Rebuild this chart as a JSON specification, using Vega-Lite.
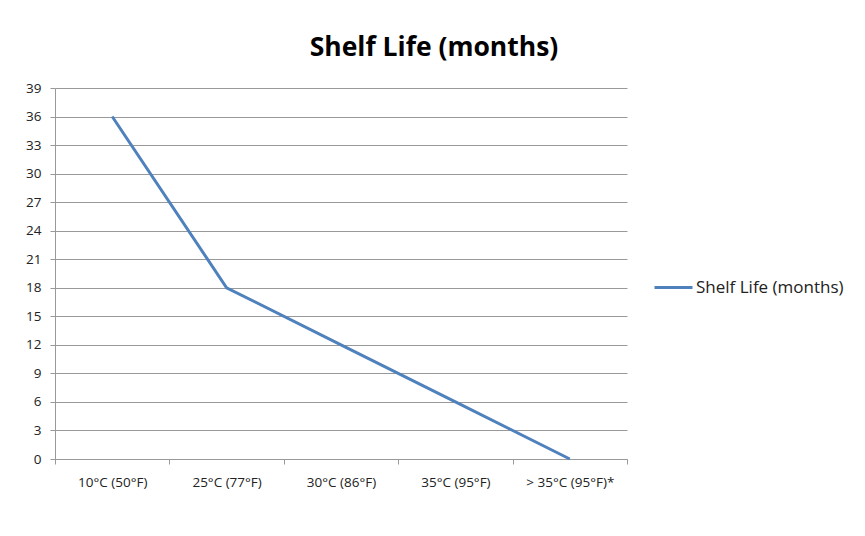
{
  "$schema": "https://vega.github.io/schema/vega-lite/v6.json",
  "width": 572,
  "height": 371,
  "autosize": {"type": "none"},
  "padding": {"left": 55, "top": 88, "right": 238, "bottom": 77},
  "background": "#ffffff",
  "title": {
    "text": "Shelf Life (months)",
    "font": "Open Sans",
    "fontSize": 26.5,
    "fontWeight": "bold",
    "color": "#000000",
    "anchor": "middle",
    "dx": 93,
    "offset": 20
  },
  "data": {
    "values": [
      {"temp": "10°C (50°F)", "months": 36, "series": "Shelf Life (months)"},
      {"temp": "25°C (77°F)", "months": 18, "series": "Shelf Life (months)"},
      {"temp": "30°C (86°F)", "months": 12, "series": "Shelf Life (months)"},
      {"temp": "35°C (95°F)", "months": 6, "series": "Shelf Life (months)"},
      {"temp": "> 35°C (95°F)*", "months": 0, "series": "Shelf Life (months)"}
    ]
  },
  "mark": {"type": "line", "strokeWidth": 3},
  "encoding": {
    "x": {
      "field": "temp",
      "type": "nominal",
      "sort": null,
      "scale": {"type": "band", "paddingInner": 0, "paddingOuter": 0},
      "axis": {
        "title": null,
        "labelAngle": 0,
        "tickBand": "extent",
        "grid": false,
        "domainColor": "#999999",
        "tickColor": "#999999",
        "tickSize": 5,
        "labelPadding": 11,
        "labelFont": "Open Sans",
        "labelFontSize": 13.5,
        "labelColor": "#222222"
      }
    },
    "y": {
      "field": "months",
      "type": "quantitative",
      "scale": {"domain": [0, 39], "nice": false},
      "axis": {
        "title": null,
        "values": [0, 3, 6, 9, 12, 15, 18, 21, 24, 27, 30, 33, 36, 39],
        "grid": true,
        "gridColor": "#999999",
        "domainColor": "#999999",
        "tickColor": "#999999",
        "tickSize": 5,
        "labelPadding": 9,
        "labelFont": "Open Sans",
        "labelFontSize": 13.5,
        "labelColor": "#222222"
      }
    },
    "color": {
      "field": "series",
      "type": "nominal",
      "scale": {"range": ["#4F81BD"]},
      "legend": {
        "title": null,
        "orient": "none",
        "legendX": 598,
        "legendY": 179,
        "symbolType": "stroke",
        "symbolStrokeWidth": 3,
        "symbolSize": 1444,
        "labelFont": "Open Sans",
        "labelFontSize": 17,
        "labelColor": "#222222",
        "labelOffset": 2
      }
    }
  },
  "config": {
    "view": {"stroke": null}
  }
}
